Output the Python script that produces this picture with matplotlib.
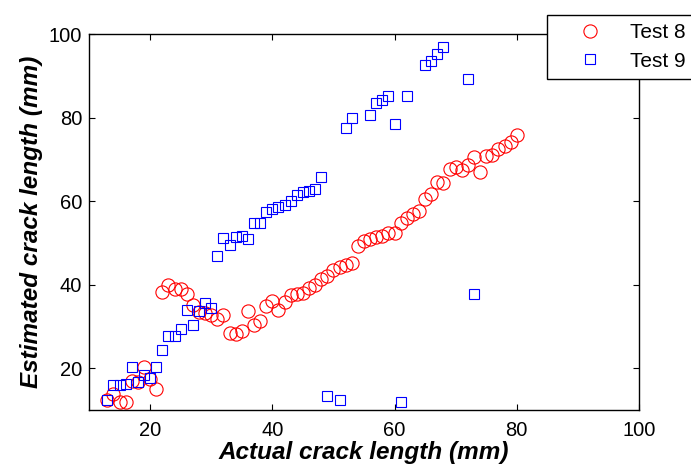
import matplotlib
matplotlib.use("Agg")
import matplotlib.pyplot as plt

# Test 8 (circulos rojos)
test8_actual = list(range(13, 81))
test8_estimada = [
    12.3, 13.9, 11.9, 11.8, 17.0, 16.6, 20.2, 17.5, 15.0, 38.3,
    39.9, 38.9, 38.9, 37.7, 35.1, 33.5, 33.2, 32.7, 31.9, 32.7,
    28.5, 28.3, 28.9, 33.6, 30.3, 31.3, 34.9, 36.1, 33.9, 35.9,
    37.5, 37.7, 38.0, 39.1, 39.9, 41.3, 42.0, 43.5, 44.3, 44.7,
    45.2, 49.3, 50.4, 51.0, 51.3, 51.6, 52.4, 52.4, 54.8, 55.9,
    56.9, 57.7, 60.6, 61.8, 64.6, 64.4, 67.8, 68.2, 67.4, 68.6,
    70.6, 67.0, 70.8, 71.0, 72.4, 73.2, 74.2, 75.8,
]

# Test 9 (cuadrados azules)
test9_actual = [
    13, 14, 15, 16, 17, 18, 19, 20, 21, 22,
    23, 24, 25, 26, 27, 28, 29, 30, 31, 32,
    33, 34, 35, 36, 37, 38, 39, 40, 41, 42,
    43, 44, 45, 46, 47, 48, 49, 51, 52, 53,
    56, 57, 58, 59, 60, 61, 62, 65, 66, 67,
    68, 72, 73,
]
test9_estimada = [
    12.3, 16.1, 15.9, 16.3, 20.2, 16.7, 18.3, 17.7, 20.3, 24.3,
    27.7, 27.7, 29.5, 33.9, 30.3, 33.7, 35.5, 34.4, 46.9, 51.1,
    49.5, 51.3, 51.6, 50.9, 54.8, 54.8, 57.4, 58.2, 58.5, 59.0,
    60.1, 61.4, 62.1, 62.5, 63.0, 65.7, 13.4, 12.5, 77.4, 80.0,
    80.6, 83.5, 84.2, 85.1, 78.4, 11.8, 85.2, 92.7, 93.5, 95.1,
    96.8, 89.2, 37.8,
]

x_ticks = [20, 40, 60, 80, 100]
y_ticks = [20, 40, 60, 80, 100]


def generar_grafico():
    plt.rcParams['font.family'] = ['Liberation Sans', 'DejaVu Sans']

    fig = plt.figure(figsize=(6.91, 4.66), dpi=100)
    ax = fig.add_axes([0.1288, 0.1202, 0.7960, 0.8068])

    ax.plot(test8_actual, test8_estimada, linestyle='none', marker='o',
            markersize=9.5, markerfacecolor='none', markeredgecolor='red',
            markeredgewidth=0.8, label='Test 8')
    ax.plot(test9_actual, test9_estimada, linestyle='none', marker='s',
            markersize=7.5, markerfacecolor='none', markeredgecolor='blue',
            markeredgewidth=0.8, label='Test 9')

    ax.set_xlim(10, 100)
    ax.set_ylim(10, 100)
    ax.set_xticks(x_ticks)
    ax.set_yticks(y_ticks)
    ax.tick_params(direction='in', length=4, width=0.8, labelsize=14.5,
                   top=True, right=True)
    ax.tick_params(axis='x', pad=8)
    ax.tick_params(axis='y', pad=5)
    for spine in ax.spines.values():
        spine.set_linewidth(1.0)

    ax.set_xlabel('Actual crack length (mm)', fontsize=17.5,
                  fontweight='bold', fontstyle='italic', labelpad=1)
    ax.set_ylabel('Estimated crack length (mm)', fontsize=17.5,
                  fontweight='bold', fontstyle='italic', labelpad=4)

    # Leyenda fuera del eje, arriba a la derecha (se corta en el borde)
    leg = fig.legend(loc='upper left', bbox_to_anchor=(547 / 691, 1 - 15 / 466),
                     bbox_transform=fig.transFigure, fontsize=15,
                     borderpad=0.4, handlelength=3.3, handletextpad=0.3,
                     labelspacing=0.45, borderaxespad=0, fancybox=False,
                     framealpha=1, edgecolor='black')
    leg.get_frame().set_linewidth(1.0)

    plt.savefig('out.png', dpi=100)


if __name__ == "__main__":
    generar_grafico()
